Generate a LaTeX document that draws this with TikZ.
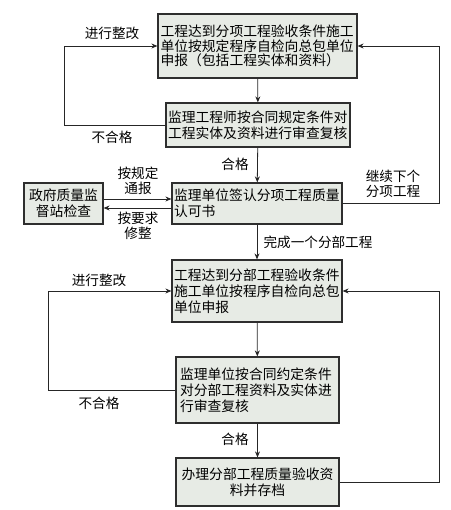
\documentclass[tikz,border=0pt]{standalone}
\usepackage{fontspec}
\setmainfont{Noto Sans CJK SC}
\usetikzlibrary{arrows.meta}
\definecolor{boxfill}{HTML}{E7EBE5}
\definecolor{boxline}{HTML}{2E2E2E}
\tikzset{
  x=1pt,y=-1pt,
  flowbox/.style={draw=boxline,line width=1.2pt,fill=boxfill,inner xsep=2pt,inner ysep=2pt,
    font=\fontsize{13.8}{15.8}\selectfont,align=left},
  lbl/.style={font=\fontsize{13.6}{15.5}\selectfont,align=center,inner sep=0pt},
  conn/.style={draw=black!85,line width=0.8pt},
  arr/.style={conn,-{Stealth[length=6pt,width=5pt]}}
}
\begin{document}
\begin{tikzpicture}
\useasboundingbox (0,0) rectangle (450,510);
\node[flowbox,text width=194pt,inner xsep=2.5pt,minimum height=64pt,font=\fontsize{13.8}{14.6}\selectfont] (b1) at (257.5,46)
  {工程达到分项工程验收条件施工\\单位按规定程序自检向总包单位\\申报（包括工程实体和资料）};
\node[flowbox,text width=180pt,minimum height=44pt] (b2) at (258,125)
  {监理工程师按合同规定条件对\\工程实体及资料进行审查复核};
\node[flowbox,text width=166pt,minimum height=41pt] (b3) at (257,203.5)
  {监理单位签认分项工程质量\\认可书};
\node[flowbox,text width=75pt,minimum height=41pt,align=center] (gov) at (63.5,203.5)
  {政府质量监\\督站检查};
\node[flowbox,text width=166pt,minimum height=62pt] (b4) at (257,291)
  {工程达到分部工程验收条件\\施工单位按程序自检向总包\\单位申报};
\node[flowbox,text width=155pt,inner xsep=4pt,minimum height=66pt] (b5) at (257.5,390)
  {监理单位按合同约定条件\\对分部工程资料及实体进\\行审查复核};
\node[flowbox,text width=155pt,inner xsep=4pt,minimum height=48pt,align=center] (b6) at (257.5,482)
  {办理分部工程质量验收资\\料并存档};

\coordinate (L1) at (64,0);
\coordinate (L2) at (48,0);
\coordinate (R) at (439,0);

\draw[arr] (b1) -- (b2);
\draw[arr] (b2) -- (b3);
\draw[arr] (b3) -- (b4);
\draw[arr] (b4) -- (b5);
\draw[arr] (b5) -- (b6);

\draw[arr] (b2.west) -- (b2.west -| L1) -- (b1.west -| L1) -- (b1.west);
\draw[arr] (b3.east) -- (b3.east -| R) -- (b1.east -| R) -- (b1.east);
\draw[arr] (b5.west) -- (b5.west -| L2) -- (b4.west -| L2) -- (b4.west);
\draw[arr] (b6.east) -- (b6.east -| R) -- (b4.east -| R) -- (b4.east);

\draw[arr] ([yshift=4.5pt]gov.east) -- ([yshift=4.5pt]gov.east -| b3.west);
\draw[arr] ([yshift=-4.5pt]b3.west) -- ([yshift=-4.5pt]b3.west -| gov.east);

\node[lbl] (t1) at (112,33) {进行整改};
\node[lbl] (t2) at (112,137) {不合格};
\node[lbl] (t3) at (235,164) {合格};
\node[lbl] (t4) at (138,181) {按规定\\通报};
\node[lbl] (t5) at (138,226) {按要求\\修整};
\node[lbl] (t6) at (393,184) {继续下个\\分项工程};
\node[lbl] (t7) at (318,242) {完成一个分部工程};
\node[lbl] (t8) at (99,280) {进行整改};
\node[lbl] (t9) at (99,403) {不合格};
\node[lbl] (t10) at (235,439) {合格};
\end{tikzpicture}
\end{document}
